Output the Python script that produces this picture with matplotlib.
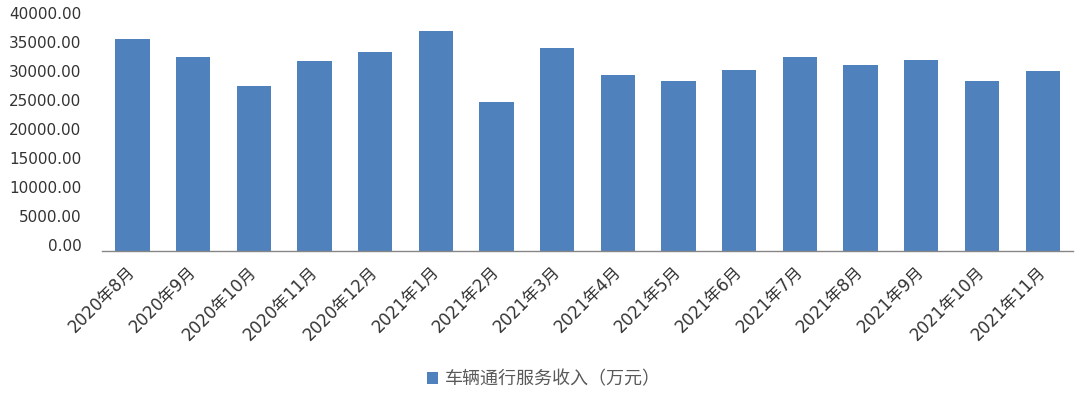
import matplotlib
matplotlib.use("Agg")
import matplotlib.pyplot as plt
from matplotlib.transforms import ScaledTranslation

# ── Dados ──────────────────────────────────────────────
meses = ["2020年8月", "2020年9月", "2020年10月", "2020年11月", "2020年12月",
         "2021年1月", "2021年2月", "2021年3月", "2021年4月", "2021年5月",
         "2021年6月", "2021年7月", "2021年8月", "2021年9月", "2021年10月",
         "2021年11月"]
receita = [36480, 33370, 28370, 32680, 34290, 37980, 25720, 34980,
           30320, 29340, 31190, 33490, 31990, 32850, 29230, 31010]
serie_nome = "车辆通行服务收入（万元）"
yticks = [0, 5000, 10000, 15000, 20000, 25000, 30000, 35000, 40000]

COR_BARRA = "#4F81BD"
FONTES = ["DejaVu Sans", "Noto Sans CJK SC"]

fig = plt.figure(figsize=(10.8, 3.96), dpi=100)
ax = fig.add_axes([0.0947, 0.3662, 0.8988, 0.5858])

x = range(len(meses))
ax.bar(x, receita, width=0.565, color=COR_BARRA, label=serie_nome)

ax.set_xlim(-0.5, len(meses) - 0.5)
ax.set_ylim(0, 40000)
ax.set_yticks(yticks)
ax.set_yticklabels([f"{v:.2f}" for v in yticks], fontsize=11,
                   family=FONTES, color="#333333")
ax.set_xticks(list(x))
ax.set_xticklabels(meses, rotation=45, ha="right", va="center",
                   rotation_mode="anchor", fontsize=12, family=FONTES,
                   color="#333333")
ax.tick_params(axis="y", length=0, pad=15)
ax.tick_params(axis="x", length=0, pad=13)

# rótulos do eixo y ligeiramente acima da marca, como no original
for lbl in ax.get_yticklabels():
    lbl.set_transform(lbl.get_transform() + ScaledTranslation(0, 4 / 72, fig.dpi_scale_trans))

for lado in ["top", "right", "left"]:
    ax.spines[lado].set_visible(False)
ax.spines["bottom"].set_color("#868686")
ax.spines["bottom"].set_linewidth(1.0)

leg = fig.legend(loc="center", bbox_to_anchor=(0.504, 0.042), frameon=False,
                 prop={"family": FONTES, "size": 13}, handlelength=0.6,
                 handleheight=0.6, handletextpad=0.4)
for t in leg.get_texts():
    t.set_color("#595959")

fig.savefig("out.png", dpi=100)
